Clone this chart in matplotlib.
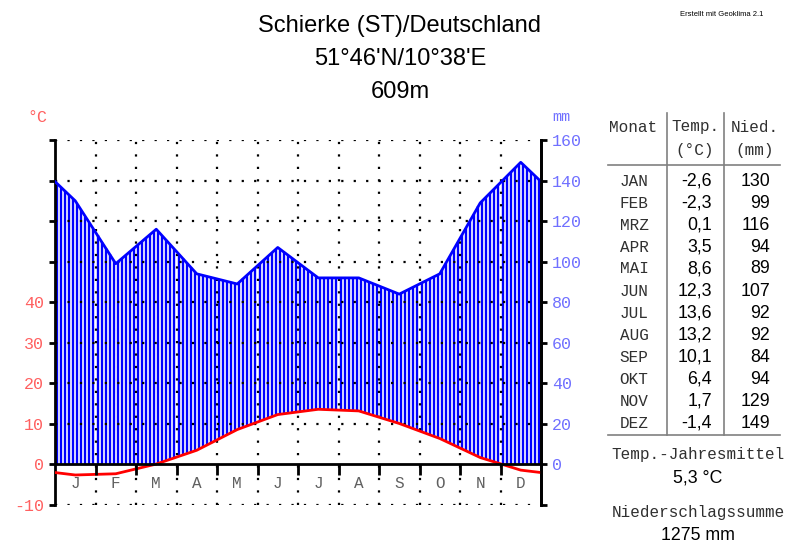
import numpy as np
import matplotlib
matplotlib.use("Agg")
import matplotlib.pyplot as plt

# climate data Schierke
months = ['J', 'F', 'M', 'A', 'M', 'J', 'J', 'A', 'S', 'O', 'N', 'D']
month_names = ['JAN', 'FEB', 'MRZ', 'APR', 'MAI', 'JUN', 'JUL', 'AUG', 'SEP', 'OKT', 'NOV', 'DEZ']
temp = [-2.6, -2.3, 0.1, 3.5, 8.6, 12.3, 13.6, 13.2, 10.1, 6.4, 1.7, -1.4]
prec = [130, 99, 116, 94, 89, 107, 92, 92, 84, 94, 129, 149]
temp_mean = "5,3 °C"
prec_sum = "1275 mm"
title_lines = ["Schierke (ST)/Deutschland", "51°46'N/10°38'E", "609m"]

W, H = 800, 555
MONO = "Liberation Mono"
SANS = "Liberation Sans"
RED = "#ff0000"
BLUE = "#0000ff"


def px(x, y):
    # pixel coords (from top left) -> figure fraction
    return x / W, 1 - y / H


fig = plt.figure(figsize=(8, 5.55), dpi=100)
l, b = px(55, 505)
r, t = px(541, 140)
ax = fig.add_axes([l, b, r - l, t - b])
ax.set_xlim(0, 12)
ax.set_ylim(-20, 160)

# curves, wrapped around the year so they run to the edges
xc = np.arange(12) + 0.5
xe = np.concatenate([[-0.5], xc, [12.5]])
te = np.array([temp[-1]] + temp + [temp[0]]) * 2
pe = np.array([prec[-1]] + prec + [prec[0]])

# humid period hatching
xh = np.arange(0.05, 12, 0.1)
lo = np.maximum(np.interp(xh, xe, te), 0)
hi = np.interp(xh, xe, pe)
m = hi > lo
ax.vlines(xh[m], lo[m], hi[m], color=BLUE, lw=1.7, zorder=2)

# dotted grid
dots = dict(color="black", lw=1.6, linestyle=(0, (1, 4.6)), dash_capstyle="butt", zorder=3)
for yv in range(-20, 161, 20):
    if yv != 0:
        ax.plot([0, 12], [yv, yv], **dots)
for xv in range(1, 12):
    ax.plot([xv, xv], [-20, 160], **dots)

ax.plot(xe, pe, color=BLUE, lw=2, zorder=4)
ax.plot(xe, te, color=RED, lw=2, zorder=5)

# zero line and month ticks
ax.plot([0, 12], [0, 0], color="black", lw=2, zorder=6)
ax.vlines(np.arange(1, 12), -5.4, 0, color="black", lw=2, zorder=6)
for i, mth in enumerate(months):
    ax.text(i + 0.5, -9.4, mth, ha="center", va="center", family=MONO,
            fontsize=11.5, color="#606060")

for s in ["top", "bottom"]:
    ax.spines[s].set_visible(False)
for s in ["left", "right"]:
    ax.spines[s].set_linewidth(2)
ax.set_xticks([])
yt = list(range(-20, 161, 20))
ax.set_yticks(yt)
ax.set_yticklabels([str(v // 2) if v <= 80 else "" for v in yt])
ax.tick_params(axis="y", direction="out", length=4, width=2, colors="black",
               labelcolor="#ff6060", labelsize=12, pad=4)
for lab in ax.get_yticklabels():
    lab.set_family(MONO)

ax2 = ax.twinx()
ax2.set_ylim(-20, 160)
ax2.set_yticks(yt)
ax2.set_yticklabels([str(v) if v >= 0 else "" for v in yt])
ax2.tick_params(axis="y", direction="out", length=4, width=2, colors="black",
                labelcolor="#7070ff", labelsize=12, pad=4)
for lab in ax2.get_yticklabels():
    lab.set_family(MONO)
for s in ["top", "bottom", "left"]:
    ax2.spines[s].set_visible(False)
ax2.spines["right"].set_linewidth(2)

fig.text(*px(37, 117), "°C", color="#ff6060", family=MONO, fontsize=12, ha="center", va="center")
fig.text(*px(561, 117), "mm", color="#7070ff", family=MONO, fontsize=11, ha="center", va="center")

# titles
for yy, s in zip([26, 59, 92], title_lines):
    fig.text(*px(400, yy), s, family=SANS, fontsize=17, ha="center", va="center")
fig.text(*px(722, 15), "Erstellt mit Geoklima 2.1", family=SANS, fontsize=5.5,
         ha="center", va="center")

# table
grey_txt = "#303030"
for xx, yy, s in [(633, 127, "Monat"), (695, 127, "Temp."), (755, 127, "Nied."),
                  (695, 150, "(°C)"), (755, 150, "(mm)")]:
    fig.text(*px(xx, yy), s, family=MONO, fontsize=11.5, ha="center", va="center", color=grey_txt)
for i in range(12):
    yy = 181 + i * 22
    fig.text(*px(634, yy), month_names[i], family=MONO, fontsize=11.5, ha="center", va="center", color=grey_txt)
    fig.text(*px(712, yy), f"{temp[i]:.1f}".replace(".", ","), family=SANS, fontsize=12.8,
             ha="right", va="center")
    fig.text(*px(770, yy), str(prec[i]), family=SANS, fontsize=12.8, ha="right", va="center")

gray = "#808080"
fig.add_artist(plt.Line2D([667 / W, 667 / W], [1 - 113 / H, 1 - 435 / H], color=gray, lw=1.2))
fig.add_artist(plt.Line2D([724 / W, 724 / W], [1 - 113 / H, 1 - 435 / H], color=gray, lw=1.2))
fig.add_artist(plt.Line2D([608 / W, 780 / W], [1 - 165 / H, 1 - 165 / H], color=gray, lw=1.2))
fig.add_artist(plt.Line2D([608 / W, 780 / W], [1 - 435 / H, 1 - 435 / H], color=gray, lw=1.2))

fig.text(*px(698, 455), "Temp.-Jahresmittel", family=MONO, fontsize=11.5, ha="center", va="center", color=grey_txt)
fig.text(*px(698, 478), temp_mean, family=SANS, fontsize=12.8, ha="center", va="center")
fig.text(*px(698, 513), "Niederschlagssumme", family=MONO, fontsize=11.5, ha="center", va="center", color=grey_txt)
fig.text(*px(698, 536), prec_sum, family=SANS, fontsize=12.8, ha="center", va="center")

fig.savefig("out.png", dpi=100)
